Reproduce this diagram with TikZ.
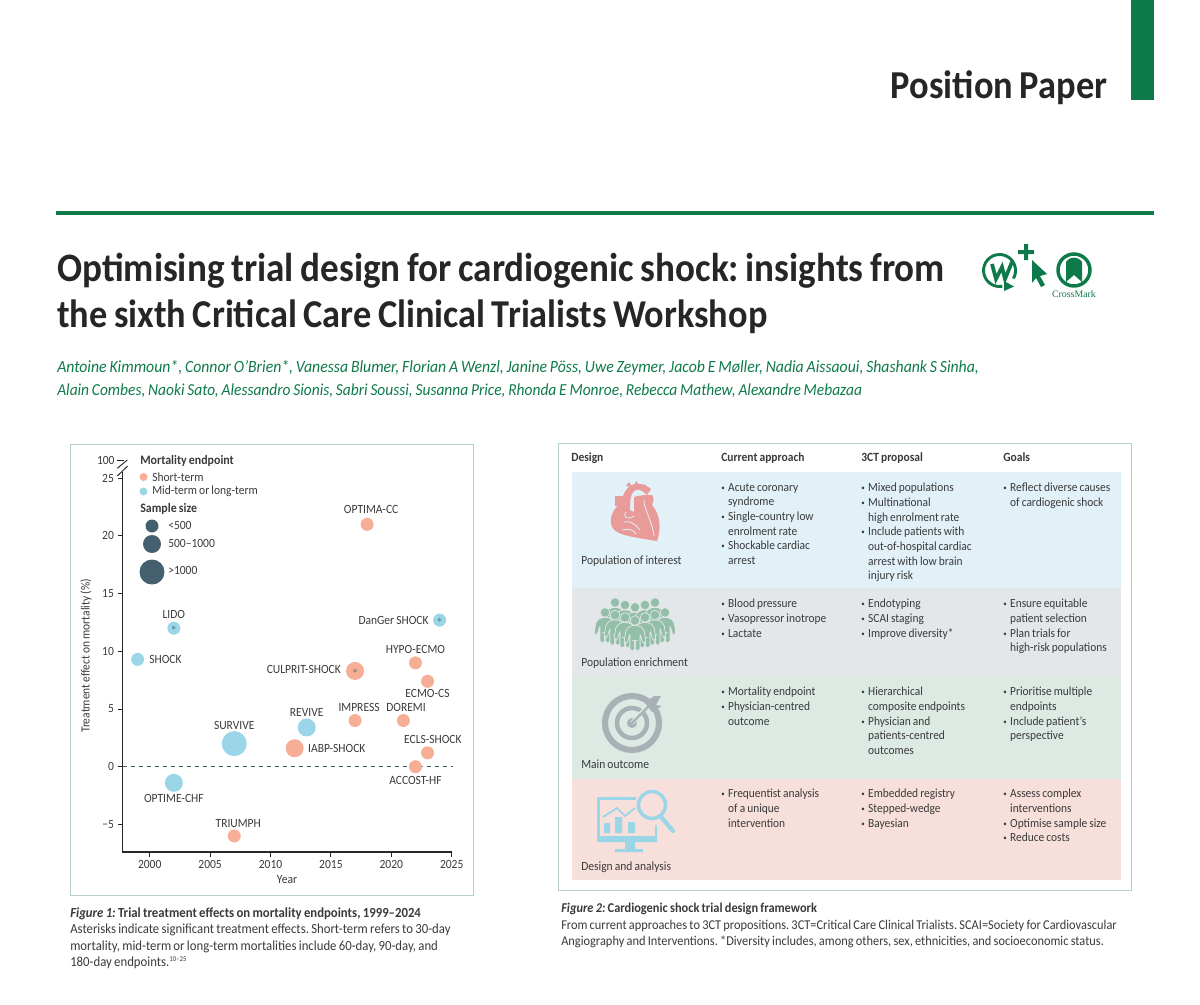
\documentclass[tikz,border=0pt]{standalone}
\usepackage{fontspec}
\setmainfont{Carlito}[FakeStretch=0.92,WordSpace=0.8]
\newfontfamily\crossfont{Liberation Serif}
\usetikzlibrary{positioning,calc}
\frenchspacing

\definecolor{lancet}{HTML}{0E7A4A}
\definecolor{framecol}{HTML}{B5CFCA}
\definecolor{salmon}{HTML}{F6AE96}
\definecolor{skyblue}{HTML}{9AD5E8}
\definecolor{slatecol}{HTML}{44606F}
\definecolor{inkcol}{HTML}{3A3A3A}
\definecolor{rowblue}{HTML}{E1F1F7}
\definecolor{rowgrey}{HTML}{E3E7EA}
\definecolor{rowgreen}{HTML}{DDEAE3}
\definecolor{rowred}{HTML}{F7DFDC}
\definecolor{heartcol}{HTML}{E89B98}
\definecolor{peoplecol}{HTML}{93BFA9}
\definecolor{targetcol}{HTML}{A9B1B7}

\newcommand{\bul}{\makebox[5.2pt][l]{\raisebox{.8pt}{\scalebox{.6}{\textbullet}}}}
\newcommand{\ind}{\hspace*{5.2pt}}

\tikzset{
  bubble/.style={circle, inner sep=0pt, text=inkcol},
  small/.style={bubble, minimum size=9.75pt},
  mid/.style={bubble, minimum size=13.5pt},
  large/.style={bubble, minimum size=18.75pt},
  short/.style={fill=salmon},
  long/.style={fill=skyblue},
  dark/.style={fill=slatecol},
  starmark/.style={inner sep=0pt, text=slatecol, font=\fontsize{7}{7}\selectfont},
  triallabel/.style={inner sep=0pt, text=inkcol, font=\fontsize{9.4}{11}\selectfont},
  ticklabel/.style={triallabel},
  legendhead/.style={inner sep=0pt, anchor=west, text=inkcol, font=\fontsize{9.7}{11}\selectfont\bfseries},
  legendtext/.style={triallabel, anchor=west},
  rowband/.style={inner sep=0pt, minimum width=411.75pt, anchor=north west},
  cell/.style={inner sep=0pt, anchor=north west, align=left, text=inkcol, font=\fontsize{9.3}{11}\selectfont},
  cellhead/.style={inner sep=0pt, anchor=base west, text=inkcol, font=\fontsize{9.4}{11}\selectfont\bfseries},
  rowlabel/.style={inner sep=0pt, anchor=base west, text=inkcol, font=\fontsize{9.4}{11}\selectfont},
  caption/.style={inner sep=0pt, anchor=north west, align=left, text=inkcol},
  titleline/.style={inner sep=0pt, anchor=west, text=black!85, font=\bfseries},
  authorline/.style={inner sep=0pt, anchor=west, text=lancet, font=\itshape},
  axisline/.style={black!85, line width=1pt},
  pics/person/.style={code={
    \fill[peoplecol, draw=#1, line width=.5pt] (0,0) circle (4.8);
    \fill[peoplecol, draw=#1, line width=.5pt, rounded corners=1.5pt]
      (-9,9) -- (-4,5) -- (4,5) -- (9,9) -- (11,22) -- (8,23) -- (5,13) -- (5,30) -- (.6,30) -- (.6,20)
      -- (-.6,20) -- (-.6,30) -- (-5,30) -- (-5,13) -- (-8,23) -- (-11,22) -- cycle;
  }}
}

\begin{document}
\begin{tikzpicture}[x=.75pt, y=-.75pt]
\useasboundingbox (0,0) rectangle (1200,1004);

% page head
\node[fill=lancet, minimum width=17.25pt, minimum height=75pt, inner sep=0pt, anchor=north west] (tab) at (1131,0) {};
\node[inner sep=0pt, anchor=east, text=black!85, font=\fontsize{29.7}{32}\selectfont\bfseries] (head) at (1107.5,88) {Position Paper};
\coordinate (ruleL) at (56,213);
\coordinate (ruleR) at (1154,213);
\draw[lancet, line width=2.6pt] (ruleL) -- (ruleR);
\node[titleline] (title1) at (57,271) {\fontsize{30.25}{34}\selectfont Optimising trial design for cardiogenic shock: insights from};
\node[titleline] (title2) at (57,317) {\fontsize{29.6}{34}\selectfont the sixth Critical Care Clinical Trialists Workshop};
\node[authorline] (auth1) at (57,368) {\fontsize{12.83}{14}\selectfont Antoine Kimmoun*, Connor O’Brien*, Vanessa Blumer, Florian A Wenzl, Janine Pöss, Uwe Zeymer, Jacob E Møller, Nadia Aissaoui, Shashank S Sinha,};
\node[authorline] (auth2) at (57,391) {\fontsize{12.6}{14}\selectfont Alain Combes, Naoki Sato, Alessandro Sionis, Sabri Soussi, Susanna Price, Rhonda E Monroe, Rebecca Mathew, Alexandre Mebazaa};

% logos
\draw[lancet, line width=2.2pt] (1013.4,278.5) arc (30:-280:16);
\fill[lancet] (1004,281) -- (1014,286.5) -- (1004,291) -- cycle;
\draw[lancet, line width=2.8pt] (992,264) -- (996,279) -- (1002,267) -- (1005,279) -- (1012,262);
\fill[lancet] (1018,250) rectangle (1034,254) (1024,244) rectangle (1028,260);
\fill[lancet] (1032,260) -- (1047,274) -- (1040,276) -- (1045,285) -- (1041,287) -- (1036,278) -- (1032,283) -- cycle;
\draw[lancet, line width=2.6pt] (1074,270) circle (16);
\fill[lancet] (1066,262) .. controls (1070,256) and (1078,256) .. (1082,262) -- (1082,282) -- (1074,275) -- (1066,282) -- cycle;
\node[inner sep=0pt, text=lancet, font=\fontsize{7.4}{8}\selectfont\crossfont] (cross) at (1074,294) {CrossMark};

% figure 1
\node[draw=framecol, line width=.9pt, minimum width=302.25pt, minimum height=338.25pt, inner sep=0pt, anchor=north west] (chart) at (70,443.5) {};
\coordinate (origin) at (122.7,852);
\coordinate (axisTop) at (122.7,472);
\coordinate (axisEnd) at (451.7,852);
\coordinate (zeroL) at (122.7,766.7);
\coordinate (zeroR) at (453,766.7);
\draw[axisline] (axisTop) -- (origin) -- (axisEnd);
\draw[slatecol, dashed, line width=.6pt] (zeroL) -- (zeroR);
\foreach \v/\t in {-5/−5,0/0,5/5,10/10,15/15,20/20,25/25}
  \draw[axisline, line width=.7pt] (122.7,{766.7-11.54*\v}) -- ++(-5,0) node[ticklabel, anchor=east, xshift=-2.5pt] {\t};
\foreach \y in {2000,2005,...,2025}
  \draw[axisline, line width=.7pt] ({149.7+(\y-2000)*12.08},852) -- ++(0,5) node[ticklabel, anchor=north, yshift=-2.5pt] {\y};
\draw[axisline, line width=.7pt] (117,460.5) -- (124,460.5) node[ticklabel, pos=0, anchor=east, xshift=-1.5pt] {100};
\draw[axisline, line width=.7pt] (117.3,468.3) -- (127.3,460);
\draw[axisline, line width=.7pt] (117.3,476) -- (127.7,466);
\node[triallabel] (xtitle) at (287,880) {Year};
\node[triallabel, rotate=90] (ytitle) at (86,656) {Treatment effect on mortality (\%)};

\node[legendhead] (legA) at (140,461) {Mortality endpoint};
\node[short, circle, minimum size=6pt, inner sep=0pt] (legshort) at (143.5,477) {};
\node[legendtext, right=3.2pt of legshort] {Short-term};
\node[long, circle, minimum size=6pt, inner sep=0pt] (leglong) at (143.5,491.5) {};
\node[legendtext, right=3.2pt of leglong] {Mid-term or long-term};
\node[legendhead] (legB) at (140,509) {Sample size};
\node[small, dark] (legsmall) at (152,526) {};
\node[mid, dark] (legmid) at (152,544) {};
\node[large, dark] (leglarge) at (152,572) {};
\node[legendtext] at (168,525) {<500};
\node[legendtext] at (168,543) {500–1000};
\node[legendtext] at (168,570) {>1000};

\foreach \name/\yr/\val/\kind/\size in {
  optimacc/2018/21/short/small, lido/2002/12/long/small, danger/2024/12.7/long/small,
  shock/1999/9.3/long/small, hypo/2022/9/short/small, culprit/2017/8.3/short/mid,
  ecmo/2023/7.4/short/small, impress/2017/4/short/small, doremi/2021/4/short/small,
  revive/2013/3.4/long/mid, survive/2007/2/long/large, iabp/2012/1.6/short/mid,
  ecls/2023/1.2/short/small, accost/2022/0/short/small, optime/2002/-1.4/long/mid,
  triumph/2007/-6/short/small}
  \node[\size, \kind] (\name) at ({149.7+(\yr-2000)*12.08},{766.7-11.54*\val}) {};
\foreach \b in {lido,danger,culprit}
  \node[starmark] (\b star) at (\b) {$*$};

\node[triallabel, above=2.5pt of optimacc, xshift=3pt] {OPTIMA-CC};
\node[triallabel, above=2pt of lido] {LIDO};
\node[triallabel, left=3pt of danger] {DanGer SHOCK};
\node[triallabel, right=3.5pt of shock] {SHOCK};
\node[triallabel, above=2pt of hypo] {HYPO-ECMO};
\node[triallabel, left=3.5pt of culprit, yshift=1pt] {CULPRIT-SHOCK};
\node[triallabel, below=1pt of ecmo] {ECMO-CS};
\node[triallabel, above=1.5pt of impress, xshift=3pt] {IMPRESS};
\node[triallabel, above=1.5pt of doremi, xshift=2pt] {DOREMI};
\node[triallabel, above=1pt of revive] {REVIVE};
\node[triallabel, above=1pt of survive] {SURVIVE};
\node[triallabel, right=3pt of iabp] {IABP-SHOCK};
\node[triallabel, above=1.5pt of ecls, xshift=4pt] {ECLS-SHOCK};
\node[triallabel, below=2pt of accost] {ACCOST-HF};
\node[triallabel, below=1.5pt of optime] {OPTIME-CHF};
\node[triallabel, above=1pt of triumph, xshift=3pt] {TRIUMPH};

\node[caption, font=\fontsize{10.4}{12.4}\selectfont] (cap1) at (70,907) {{\bfseries\itshape Figure 1:} \textbf{Trial treatment effects on mortality endpoints, 1999–2024}\\
Asterisks indicate significant treatment effects. Short-term refers to 30-day\\
mortality, mid-term or long-term mortalities include 60-day, 90-day, and\\
180-day endpoints.\textsuperscript{\fontsize{5.5}{5.5}\selectfont 10–25}};

% figure 2
\node[draw=framecol, line width=.9pt, minimum width=429.75pt, minimum height=335.25pt, inner sep=0pt, anchor=north west] (frame) at (558,443) {};
\node[rowband, fill=rowblue, minimum height=87pt] (row1) at (571.5,472) {};
\node[rowband, fill=rowgrey, minimum height=66.75pt] (row2) at (571.5,588) {};
\node[rowband, fill=rowgreen, minimum height=76.5pt] (row3) at (571.5,677) {};
\node[rowband, fill=rowred, minimum height=75.75pt] (row4) at (571.5,779) {};

\node[cellhead] (hdesign) at (571,461) {Design};
\node[cellhead] (hcurrent) at (721,461) {Current approach};
\node[cellhead] (hproposal) at (861,461) {3CT proposal};
\node[cellhead] (hgoals) at (1003,461) {Goals};

\node[rowlabel] at (581,564) {Population of interest};
\node[rowlabel] at (581,666) {Population enrichment};
\node[rowlabel] at (581,768) {Main outcome};
\node[rowlabel] at (581,870) {Design and analysis};

\node[cell] at (721,483) {\bul Acute coronary\\\ind syndrome\\\bul Single-country low\\\ind enrolment rate\\\bul Shockable cardiac\\\ind arrest};
\node[cell] at (861,483) {\bul Mixed populations\\\bul Multinational\\\ind high enrolment rate\\\bul Include patients with\\\ind out-of-hospital cardiac\\\ind arrest with low brain\\\ind injury risk};
\node[cell] at (1003,483) {\bul Reflect diverse causes\\\ind of cardiogenic shock};

\node[cell] at (721,599) {\bul Blood pressure\\\bul Vasopressor inotrope\\\bul Lactate};
\node[cell] at (861,599) {\bul Endotyping\\\bul SCAI staging\\\bul Improve diversity*};
\node[cell] at (1003,599) {\bul Ensure equitable\\\ind patient selection\\\bul Plan trials for\\\ind high-risk populations};

\node[cell] at (721,687) {\bul Mortality endpoint\\\bul Physician-centred\\\ind outcome};
\node[cell] at (861,687) {\bul Hierarchical\\\ind composite endpoints\\\bul Physician and\\\ind patients-centred\\\ind outcomes};
\node[cell] at (1003,687) {\bul Prioritise multiple\\\ind endpoints\\\bul Include patient’s\\\ind perspective};

\node[cell] at (721,789) {\bul Frequentist analysis\\\ind of a unique\\\ind intervention};
\node[cell] at (861,789) {\bul Embedded registry\\\bul Stepped-wedge\\\bul Bayesian};
\node[cell] at (1003,789) {\bul Assess complex\\\ind interventions\\\bul Optimise sample size\\\bul Reduce costs};

% heart
\fill[heartcol] (615,496) rectangle (624,506);
\fill[heartcol] (626,486) -- (629,482) -- (632,487) -- cycle (634,486) -- (636,481) -- (640,486) -- cycle (642,489) -- (645,484) -- (648,490) -- cycle;
\fill[heartcol] (622,503) .. controls (612,508) and (609,520) .. (612,527) .. controls (616,536) and (640,538) .. (657,541)
  .. controls (661,530) and (661,515) .. (652,505) .. controls (654,501) and (654,497) .. (652,495) .. controls (646,495) and (640,495) .. (634,497)
  -- (634,512) -- (630,510) .. controls (630,502) and (630,495) .. (634,491) .. controls (638,488) and (642,490) .. (647,495)
  -- (651,489) .. controls (643,482) and (632,482) .. (627,489) .. controls (623,494) and (622,498) .. (622,503) -- cycle;
\draw[rowblue, line width=.6pt] (626,512) .. controls (622,518) and (628,520) .. (634,516) (624,522) .. controls (630,520) and (636,525) .. (640,530) (644,500) .. controls (644,510) and (652,520) .. (654,536) (622,530) .. controls (628,528) and (634,530) .. (636,534);

% people
\foreach \hx/\hy in {615/602.5, 625/605, 635/607.3, 645/605, 655/602.5}
  \pic at (\hx,\hy) {person=rowgrey};
\foreach \hx/\hy in {605/612.5, 665/612.5, 615/615, 655/615, 625/617.5, 645/617.5}
  \pic at (\hx,\hy) {person=rowgrey};
\pic at (635,620.5) {person=rowgrey};

% target
\draw[targetcol, line width=4.6pt] (632,723) circle (27);
\draw[targetcol, line width=3.4pt] (632,723) circle (15);
\fill[targetcol] (632,723) circle (5);
\draw[rowgreen, line width=3pt] (632,723) -- (651,702);
\draw[targetcol, line width=1.8pt] (632,723) -- (651,704);
\fill[targetcol] (645,703) -- (654,696) -- (661,696) -- (656,705) -- (662,706) -- (652,712) -- cycle;

% monitor
\draw[skyblue, line width=2.2pt] (636,798.5) -- (598.5,798.5) -- (598.5,840) -- (656,840) -- (656,825);
\fill[skyblue] (597,836) rectangle (657,842) (625,842) rectangle (635,849) (615,849) rectangle (643,852);
\fill[skyblue] (604,823) rectangle (610,833) (615,817) rectangle (622,833) (628,822) rectangle (635,833);
\draw[skyblue, line width=1.3pt] (603,817) -- (617,808) -- (625,816) -- (635,808);
\draw[skyblue, line width=2.6pt] (652,805) circle (13.5);
\draw[skyblue, line width=3.2pt, line cap=round] (661,817) -- (673,831);

\node[caption, font=\fontsize{10.1}{12.6}\selectfont] (cap2) at (561,902.5) {{\bfseries\itshape Figure 2:} \textbf{Cardiogenic shock trial design framework}\\
From current approaches to 3CT propositions. 3CT=Critical Care Clinical Trialists. SCAI=Society for Cardiovascular\\
Angiography and Interventions. *Diversity includes, among others, sex, ethnicities, and socioeconomic status.};
\end{tikzpicture}
\end{document}
